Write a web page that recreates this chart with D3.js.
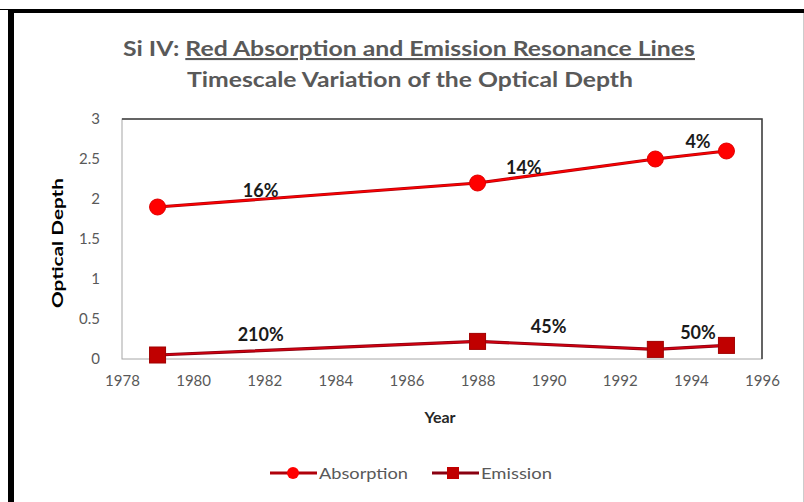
<!DOCTYPE html>
<html>
<head>
<meta charset="utf-8">
<script src="https://cdn.jsdelivr.net/npm/d3@7"></script>
<style>
  body { margin: 0; background: #fff; }
  svg { display: block; }
</style>
</head>
<body>
<script>
const w = 804;
const h = 502;

// data
const years = [1979, 1988, 1993, 1995];
const absorption = [1.9, 2.2, 2.5, 2.6];
const emission = [0.05, 0.22, 0.12, 0.17];
const absLabels = ["16%", "14%", "4%"];
const absLabelPos = [[1981.9, 2.03], [1989.3, 2.31], [1994.2, 2.64]];
const emiLabels = ["210%", "45%", "50%"];
const emiLabelPos = [[1981.9, 0.22], [1990.0, 0.32], [1994.2, 0.25]];
const xTicks = [1978, 1980, 1982, 1984, 1986, 1988, 1990, 1992, 1994, 1996];
const yTicks = [0, 0.5, 1, 1.5, 2, 2.5, 3];

const absColor = "#ff0000";
const emiColor = "#c00000";
const font = "Lato, 'Open Sans', sans-serif";

const svg = d3.select("body")
  .append("svg")
  .attr("width", w)
  .attr("height", h);

// outer frame
svg.append("line").attr("x1", 11).attr("x2", 11).attr("y1", 9).attr("y2", h)
  .attr("stroke", "#000").attr("stroke-width", 6);
svg.append("line").attr("x1", 8).attr("x2", w).attr("y1", 11).attr("y2", 11)
  .attr("stroke", "#000").attr("stroke-width", 4);
svg.append("line").attr("x1", 0).attr("x2", 10).attr("y1", 9.5).attr("y2", 9.5)
  .attr("stroke", "#000").attr("stroke-width", 1);
svg.append("line").attr("x1", 803.5).attr("x2", 803.5).attr("y1", 13).attr("y2", h)
  .attr("stroke", "#ccc").attr("stroke-width", 1);

const x = d3.scaleLinear().domain([1978, 1996]).range([122, 762]);
const y = d3.scaleLinear().domain([0, 3]).range([359, 119]);

// titles
const t1 = svg.append("text")
  .attr("x", 123).attr("y", 56)
  .attr("textLength", 572).attr("lengthAdjust", "spacingAndGlyphs")
  .style("font-family", font).style("font-weight", "bold")
  .style("font-size", "21px").attr("fill", "#595959");
t1.append("tspan").text("Si IV: ");
t1.append("tspan")
  .style("text-decoration", "underline")
  .text("Red Absorption and Emission Resonance Lines");

svg.append("text")
  .attr("x", 187).attr("y", 87)
  .attr("textLength", 446).attr("lengthAdjust", "spacingAndGlyphs")
  .style("font-family", font).style("font-weight", "bold")
  .style("font-size", "21px").attr("fill", "#595959")
  .text("Timescale Variation of the Optical Depth");

// plot frame
svg.append("rect")
  .attr("x", x(1978)).attr("y", y(3))
  .attr("width", x(1996) - x(1978)).attr("height", y(0) - y(3))
  .attr("fill", "none").attr("stroke", "#a6a6a6").attr("stroke-width", 1);
svg.append("path")
  .attr("d", `M${x(1978)},${y(3)}H${x(1996)}V${y(0)}`)
  .attr("fill", "none").attr("stroke", "#404040").attr("stroke-width", 1.5);

// axes
const xAxis = svg.append("g")
  .attr("transform", `translate(0,${y(0)})`)
  .call(d3.axisBottom(x).tickValues(xTicks).tickFormat(d3.format("d")).tickSize(0).tickPadding(16));
const yAxis = svg.append("g")
  .attr("transform", `translate(${x(1978)},0)`)
  .call(d3.axisLeft(y).tickValues(yTicks).tickFormat(d => String(d)).tickSize(0).tickPadding(22));
[xAxis, yAxis].forEach(a => {
  a.select(".domain").remove();
  a.selectAll("text")
    .style("font-family", font).style("font-size", "15px").attr("fill", "#595959");
});

svg.append("text")
  .attr("transform", "translate(63,243) rotate(-90)")
  .attr("x", -65)
  .attr("textLength", 130).attr("lengthAdjust", "spacingAndGlyphs")
  .style("font-family", font).style("font-weight", "bold").style("font-size", "16px")
  .attr("fill", "#000")
  .text("Optical Depth");

svg.append("text")
  .attr("x", 440).attr("y", 423)
  .attr("text-anchor", "middle")
  .style("font-family", font).style("font-weight", "bold").style("font-size", "16px")
  .attr("fill", "#262626")
  .text("Year");

// series
const line = d3.line().x(d => x(d[0])).y(d => y(d[1]));
const absData = years.map((yr, i) => [yr, absorption[i]]);
const emiData = years.map((yr, i) => [yr, emission[i]]);

svg.append("path").datum(absData)
  .attr("d", line).attr("fill", "none")
  .attr("stroke", "#b0000a").attr("stroke-width", 3.2);
svg.append("path").datum(absData)
  .attr("d", line).attr("fill", "none")
  .attr("stroke", absColor).attr("stroke-width", 1.6);

svg.append("path").datum(emiData)
  .attr("d", line).attr("fill", "none")
  .attr("stroke", "#8a0010").attr("stroke-width", 3.2);
svg.append("path").datum(emiData)
  .attr("d", line).attr("fill", "none")
  .attr("stroke", "#d00010").attr("stroke-width", 1.6);

svg.append("g").selectAll("circle")
  .data(absData)
  .enter()
  .append("circle")
  .attr("cx", d => x(d[0]))
  .attr("cy", d => y(d[1]))
  .attr("r", 8)
  .attr("fill", absColor)
  .attr("stroke", "#e00000").attr("stroke-width", 1);

svg.append("g").selectAll("rect")
  .data(emiData)
  .enter()
  .append("rect")
  .attr("x", d => x(d[0]) - 8)
  .attr("y", d => y(d[1]) - 8)
  .attr("width", 16).attr("height", 16)
  .attr("fill", emiColor)
  .attr("stroke", "#a00000").attr("stroke-width", 1);

// percentage labels
const labelData = absLabels.map((t, i) => ({ t: t, p: absLabelPos[i] }))
  .concat(emiLabels.map((t, i) => ({ t: t, p: emiLabelPos[i] })));
svg.append("g").selectAll("text")
  .data(labelData)
  .enter()
  .append("text")
  .attr("x", d => x(d.p[0]))
  .attr("y", d => y(d.p[1]))
  .attr("text-anchor", "middle")
  .style("font-family", font).style("font-weight", "bold").style("font-size", "18px")
  .attr("fill", "#1a1a1a")
  .text(d => d.t);

// legend
const legendData = [
  { label: "Absorption", color: absColor, line: "#b0000a", shape: "circle", x: 270, len: 89 },
  { label: "Emission", color: emiColor, line: "#8a0010", shape: "square", x: 432, len: 71 }
];
const legend = svg.append("g")
  .selectAll("g")
  .data(legendData)
  .enter()
  .append("g")
  .attr("transform", d => `translate(${d.x},473)`);

legend.append("line")
  .attr("x1", 0).attr("x2", 47)
  .attr("stroke", d => d.line).attr("stroke-width", 3);
legend.filter(d => d.shape === "circle").append("circle")
  .attr("cx", 23).attr("r", 6).attr("fill", d => d.color);
legend.filter(d => d.shape === "square").append("rect")
  .attr("x", 15).attr("y", -6).attr("width", 12).attr("height", 12)
  .attr("fill", d => d.color);
legend.append("text")
  .attr("x", 49).attr("y", 6)
  .attr("textLength", d => d.len).attr("lengthAdjust", "spacingAndGlyphs")
  .style("font-family", font).style("font-size", "16px")
  .attr("fill", "#595959")
  .text(d => d.label);
</script>
</body>
</html>
